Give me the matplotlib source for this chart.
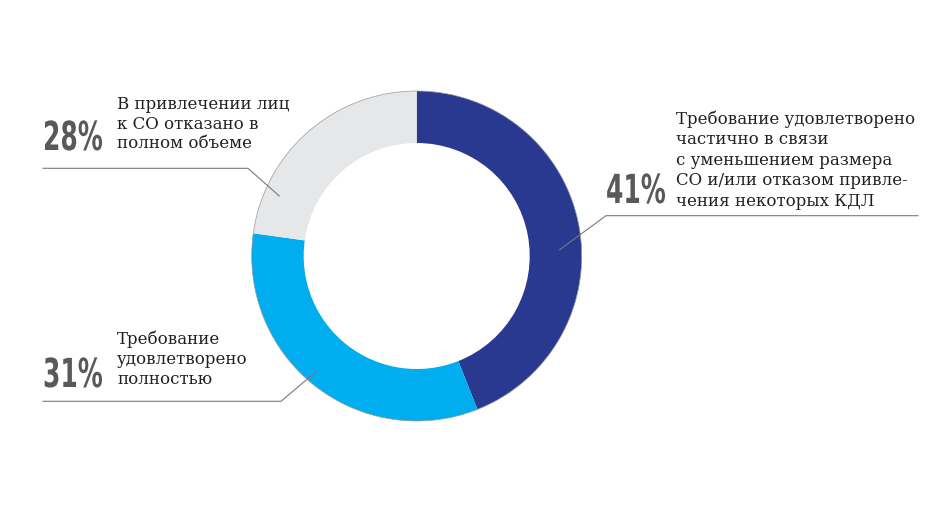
import numpy as np
import matplotlib.pyplot as plt
from matplotlib.patches import Circle
from matplotlib.patheffects import AbstractPathEffect
from matplotlib.transforms import Affine2D

# data
labels = ["Требование удовлетворено\nчастично в связи\nс уменьшением размера\nСО и/или отказом привле-\nчения некоторых КДЛ",
          "Требование\nудовлетворено\nполностью",
          "В привлечении лиц\nк СО отказано в\nполном объеме"]
percent_text = ["41%", "31%", "28%"]
# arc shares as drawn in the picture
arc_shares = [44, 33.2, 22.8]
colors = ["#293990", "#00adee", "#e6e7e8"]

H = 510
cx, cy = 416.7, H - 257
R = 165
ring = 52


# stretch glyphs vertically around the baseline to imitate a tall condensed font
class Stretch(AbstractPathEffect):
    def __init__(self, y0, sy):
        super().__init__()
        self.y0 = y0
        self.sy = sy

    def draw_path(self, renderer, gc, tpath, affine, rgbFace=None):
        t = affine + Affine2D().translate(0, -self.y0).scale(1, self.sy).translate(0, self.y0)
        renderer.draw_path(gc, tpath, t, rgbFace)


fig = plt.figure(figsize=(9.5, 5.1), dpi=100)
ax = fig.add_axes([0, 0, 1, 1])
ax.set_xlim(0, 950)
ax.set_ylim(0, H)
ax.set_aspect('equal')
ax.axis('off')

ax.pie(arc_shares, colors=colors, startangle=90, counterclock=False,
       center=(cx, cy), radius=R, wedgeprops=dict(width=ring, linewidth=0))
ax.add_patch(Circle((cx, cy), R, fill=False, ec="#9a9a9a", lw=0.5))
ax.set_xlim(0, 950)
ax.set_ylim(0, H)

# leader lines: (anchor angle, anchor radius, elbow x,y, end x)
leaders = [(2.5, 143, 606, 216.7, 918),
           (-131, 153, 281, 402.3, 43),
           (156.4, 150, 248, 169.3, 43)]
for ang, r, ex, ey, endx in leaders:
    a = np.radians(ang)
    px, py = cx + r * np.cos(a), cy + r * np.sin(a)
    ax.plot([px, ex, endx], [py, H - ey, H - ey], color="#7a7a7a", lw=0.8)

# percent texts and labels: (pct x, pct baseline y, label x, label top y, line spacing)
pos = [(606, 204, 676, 110, 1.28),
       (43, 388, 117, 331, 1.23),
       (43, 151, 117, 96, 1.2)]
for (px, py, lx, ly, ls), pct, lab in zip(pos, percent_text, labels):
    ax.text(px, H - py, pct, family='DejaVu Sans', fontsize=18, fontweight='bold',
            color="#58595b", ha='left', va='baseline',
            path_effects=[Stretch(H - py, 1.6)])
    ax.text(lx, H - ly, lab, family='DejaVu Serif', fontsize=12, color="#231f20",
            ha='left', va='top', linespacing=ls)

plt.savefig("out.png", dpi=100)
